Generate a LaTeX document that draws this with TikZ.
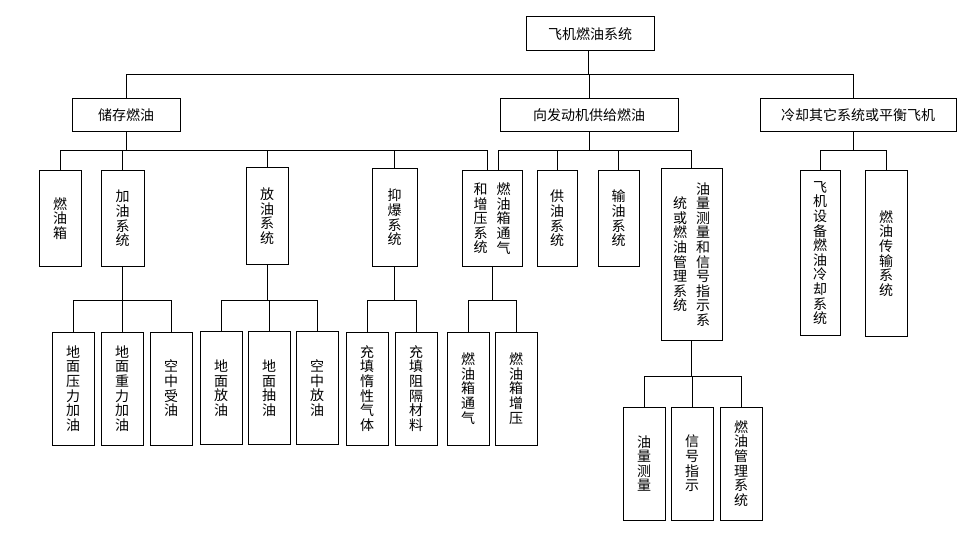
\documentclass[tikz,border=0pt]{standalone}
\usepackage{fontspec}
\setmainfont{Noto Sans CJK SC}
\usetikzlibrary{positioning}
\XeTeXlinebreaklocale "zh"
\XeTeXlinebreakskip=0pt plus 1pt
\newcommand\Vtext[1]{%
  \parbox[c]{1em}{\centering#1}}

\begin{document}
\begin{tikzpicture}[x=1pt, y=-1pt,
font=\fontsize{14pt}{14.6pt}\selectfont,
hbox/.style={
  draw, line width=1pt,
  inner sep=0pt,
  minimum height=33pt
},
vbox/.style={
  draw, line width=1pt,
  inner sep=0pt,
  minimum width=42pt, minimum height=95pt
},
leaf/.style={vbox, minimum height=113pt},
link/.style={line width=1pt}]

\useasboundingbox (0,0) rectangle (976,553);

% top levels
\node (root) [hbox, minimum width=128pt, minimum height=34pt] at (590,34) {飞机燃油系统};
\node (store) [hbox, minimum width=108pt] at (126,115.5) {储存燃油};
\node (engine) [hbox, minimum width=178pt] at (589,115.5) {向发动机供给燃油};
\node (cool) [hbox, minimum width=196pt] at (858,115.5) {冷却其它系统或平衡飞机};

\coordinate (rootS) at ([xshift=-2pt]root.south);
\coordinate (coolN) at ([xshift=-5pt]cool.north);
\coordinate (coolS) at ([xshift=-5pt]cool.south);

% second level
\node (tank) [vbox] at (60,218.5) {\Vtext{燃油箱}};
\node (fill) [vbox, minimum width=43pt] at (122.5,218.5) {\Vtext{加油系统}};
\node (dump) [vbox, minimum height=96pt] at (267,216) {\Vtext{放油系统}};
\node (inert) [vbox, minimum width=45pt, minimum height=97pt] at (394.5,217.5) {\Vtext{抑爆系统}};
\node (vent) [vbox, minimum width=60pt] at (492,218.5)
  {\Vtext{和增压系统}\hspace{9pt}\Vtext{燃油箱通气}};
\node (feed) [vbox, minimum width=40pt] at (557,218.5) {\Vtext{供油系统}};
\node (xfer) [vbox, minimum width=41pt] at (618.5,218.5) {\Vtext{输油系统}};
\node (gauge) [vbox, minimum width=61pt, minimum height=171pt] at (691.5,254.5)
  {\Vtext{统或燃油管理系统}\hspace{9pt}\Vtext{油量测量和信号指示系}};
\node (devcool) [vbox, minimum width=40pt, minimum height=164pt] at (820,253) {\Vtext{飞机设备燃油冷却系统}};
\node (trans) [vbox, minimum height=165pt] at (886,253.5) {\Vtext{燃油传输系统}};

\coordinate (ventL) at ([xshift=-5pt]vent.north);
\coordinate (ventR) at ([xshift=6pt]vent.north);

% third level
\node (fill1) [leaf] at (73,388.5) {\Vtext{地面压力加油}};
\node (fill2) [leaf, right=6pt of fill1] {\Vtext{地面重力加油}};
\node (fill3) [leaf, right=6pt of fill2] {\Vtext{空中受油}};
\node (dump1) [leaf] at (221,388) {\Vtext{地面放油}};
\node (dump2) [leaf, right=5pt of dump1] {\Vtext{地面抽油}};
\node (dump3) [leaf, right=5pt of dump2] {\Vtext{空中放油}};
\node (inert1) [leaf] at (367,388.5) {\Vtext{充填惰性气体}};
\node (inert2) [leaf, right=6pt of inert1] {\Vtext{充填阻隔材料}};
\node (vent1) [leaf] at (468,388.5) {\Vtext{燃油箱通气}};
\node (vent2) [leaf, right=5pt of vent1] {\Vtext{燃油箱增压}};
\node (gauge1) [leaf] at (644,463.5) {\Vtext{油量测量}};
\node (gauge2) [leaf, right=5pt of gauge1] {\Vtext{信号指示}};
\node (gauge3) [leaf, right=6pt of gauge2] {\Vtext{燃油管理系统}};

% bus lines
\coordinate (bus0) at (0,75);
\coordinate (bus1) at (0,151);
\coordinate (bus2) at (0,300);
\coordinate (bus3) at (0,376);

\foreach \k in {store.north, engine.north, coolN}
  \draw[link] (rootS) |- (bus0 -| \k) -- (\k);
\foreach \k in {tank.north, fill.north, dump.north, inert.north, ventL}
  \draw[link] (store.south) |- (bus1 -| \k) -- (\k);
\foreach \k in {ventR, feed.north, xfer.north, gauge.north}
  \draw[link] (engine.south) |- (bus1 -| \k) -- (\k);
\foreach \k in {devcool.north, trans.north}
  \draw[link] (coolS) |- (bus1 -| \k) -- (\k);
\foreach \k in {fill1.north, fill2.north, fill3.north}
  \draw[link] (fill.south) |- (bus2 -| \k) -- (\k);
\foreach \k in {dump1.north, dump2.north, dump3.north}
  \draw[link] (dump.south) |- (bus2 -| \k) -- (\k);
\foreach \k in {inert1.north, inert2.north}
  \draw[link] (inert.south) |- (bus2 -| \k) -- (\k);
\foreach \k in {vent1.north, vent2.north}
  \draw[link] (vent.south) |- (bus2 -| \k) -- (\k);
\foreach \k in {gauge1.north, gauge2.north, gauge3.north}
  \draw[link] (gauge.south) |- (bus3 -| \k) -- (\k);
\end{tikzpicture}
\end{document}
